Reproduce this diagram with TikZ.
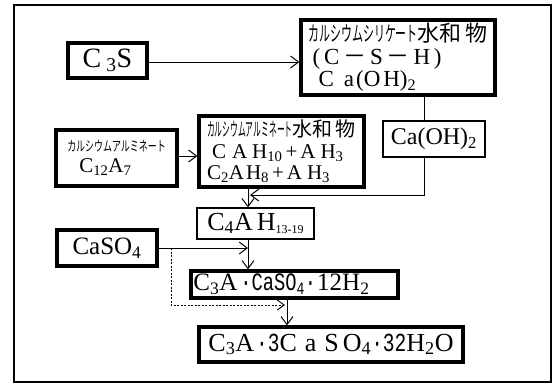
\documentclass[tikz,border=0pt]{standalone}
\usepackage{fontspec}
\setmainfont{Liberation Serif}
\newfontfamily\jp{Noto Sans CJK JP}
\newfontfamily\mono{Liberation Mono}
\usetikzlibrary{arrows.meta}
\newcommand\kt[2]{\scalebox{#1}[1]{\jp #2}}
\newcommand\sub[1]{\textsubscript{#1}}
\newcommand\fsz[2]{\fontsize{#1}{#2}\selectfont}
\newcommand\nd[1]{\scalebox{0.75}[1]{\mono #1}}
\begin{document}
\begin{tikzpicture}[x=1pt,y=-1pt,
  thickbox/.style={draw,line width=3.3pt,inner sep=0pt},
  thinbox/.style={draw,line width=1.3pt,inner sep=0pt},
  conn/.style={line width=1pt},
  arr/.style={conn,-{Straight Barb[length=8pt,width=12pt,line width=1pt]}},
  darr/.style={line width=0.9pt,dash pattern=on 2pt off 1.5pt,-{Straight Barb[length=7pt,width=10pt,line width=0.9pt]}}]
\useasboundingbox[fill=white] (0,0) rectangle (558,384);
\draw[line width=2.6pt] (14,5) rectangle (551,382);
% boxes
\node[thickbox,minimum width=79pt,minimum height=35pt,font=\fsz{28}{30}] (C3S) at (107.5,60.5) {C\hspace{5pt}\sub{3}S};
\node[thickbox,minimum width=194pt,minimum height=75pt,align=left,font=\fsz{23}{22.5}] (SH) at (398,57.5)
 {{\fontsize{21}{22}\selectfont\kt{0.52}{カルシウムシリケート}}{\fontsize{22}{22}\selectfont\jp 水和\,物}\\
  \hspace*{4pt}(\,C\,{\jp －}\,S\,{\jp －}\,H\,)\\
  \hspace*{10pt}C\hspace{10pt}a\hspace{2pt}(O\hspace{3pt}H)\sub{2}};
\node[thinbox,minimum width=102pt,minimum height=36pt,font=\fsz{24}{26}] (CaOH) at (434,139) {Ca(OH)\sub{2}};
\node[thickbox,minimum width=121pt,minimum height=56pt,align=left,font=\fsz{21}{23}] (C12) at (116.5,158)
 {{\fontsize{14}{16}\selectfont\kt{0.64}{カルシウムアルミネート}}\\[-2pt]
  \hspace*{12pt}C\sub{12}A\sub{7}};
\node[thickbox,minimum width=165pt,minimum height=71pt,align=left,font=\fsz{21}{21.5}] (CAH) at (281.5,151.5)
 {{\fontsize{19}{21}\selectfont\kt{0.41}{カルシウムアルミネート}{\fontsize{20}{21}\selectfont\jp 水和\,物}}\\
  \hspace*{5pt}C\hspace{6pt}A\hspace{5pt}H\sub{10}\hspace{3pt}+\hspace{3pt}A\hspace{5pt}H\sub{3}\\
  C\sub{2}A\hspace{2pt}H\sub{8}\hspace{3pt}+\hspace{3pt}A\hspace{5pt}H\sub{3}};
\node[thinbox,minimum width=117pt,minimum height=31pt,font=\fsz{26}{28}] (C4AH) at (255.5,223.5)
 {C\sub{4}A\hspace{4pt}H{\fontsize{12}{14}\selectfont\raisebox{-3pt}{13-19}}};
\node[thickbox,minimum width=100pt,minimum height=36pt,font=\fsz{25}{27}] (CaSO) at (107,248) {CaSO\sub{4}};
\node[thickbox,minimum width=207pt,minimum height=27pt,font=\fsz{25}{26}] (CS12) at (294.5,284.5)
 {C\sub{3}A\hspace{3pt}\nd{·CaSO\sub{4}·}\hspace{1pt}12H\sub{2}\hspace*{26pt}};
\node[thickbox,minimum width=264pt,minimum height=35pt,font=\fsz{26}{28}] (Fin) at (331,344.5)
 {C\sub{3}A\hspace{2pt}\nd{·3}C\hspace{8pt}a\hspace{8pt}S\hspace{4pt}O\sub{4}\nd{·32}H\sub{2}O};
% helper coordinates
\coordinate (xa) at (424,0);
\coordinate (xv) at (248,0);
\coordinate (xw) at (287,0);
\coordinate (turn) at (424,195);
\coordinate (tip) at (250,195);
\coordinate (dtop) at (171,248);
\coordinate (dbot) at (171,305);
\coordinate (dtip) at (285,305);
% connectors
\draw[arr] (C3S.east |- 0,62) -- (SH.west |- 0,62);
\draw[conn] (SH.south -| xa) -- (CaOH.north -| xa);
\draw[arr] (CaOH.south -| xa) -- (turn) -- (tip);
\draw[arr] (C12.east |- 0,156) -- (CAH.west |- 0,156);
\draw[arr] (CAH.south -| xv) -- (C4AH.north -| xv);
\draw[arr] (C4AH.south -| xv) -- (CS12.north -| xv);
\draw[arr] (CaSO.east) -- (CaSO.east -| xv);
\draw[darr] (dtop) -- (dbot) -- (dtip);
\draw[arr] (CS12.south -| xw) -- (Fin.north -| xw);
\end{tikzpicture}
\end{document}
